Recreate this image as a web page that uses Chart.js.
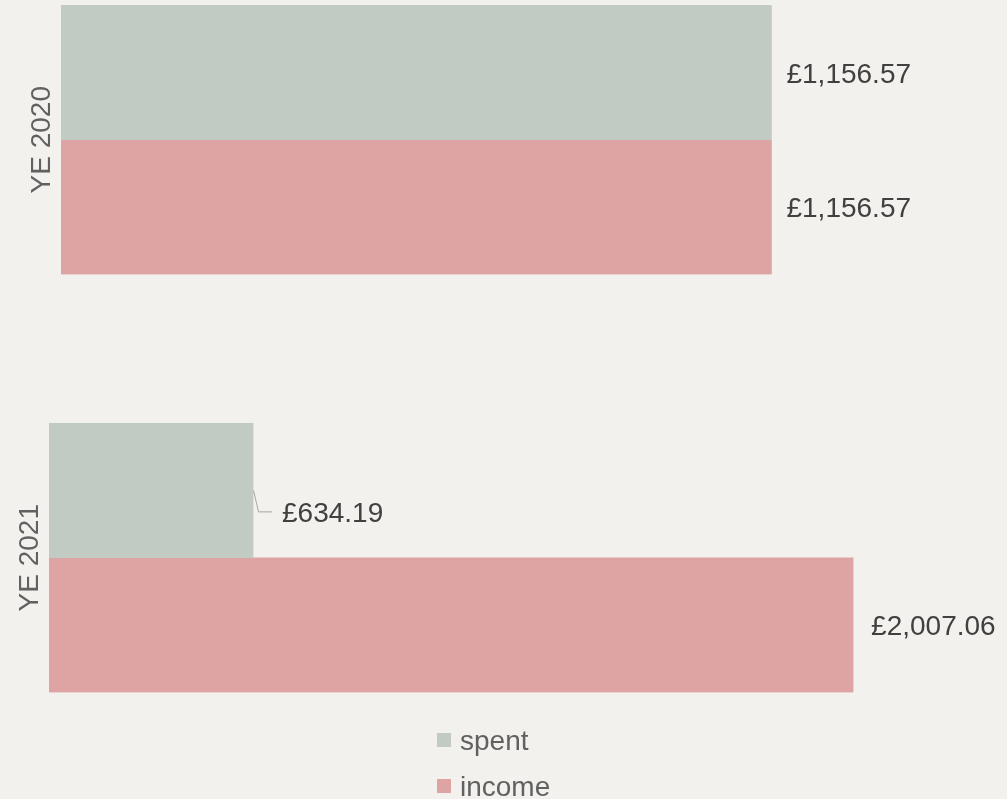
<!DOCTYPE html>
<html>
<head>
<meta charset="utf-8">
<script src="https://cdn.jsdelivr.net/npm/chart.js@4/dist/chart.umd.min.js"></script>
<style>
  html, body { margin: 0; padding: 0; background: #f2f1ed; }
  body { width: 1007px; height: 799px; position: relative; overflow: hidden; }
  .panel { position: absolute; left: 0; width: 1007px; }
  #p1 { top: 0; height: 290px; }
  #p2 { top: 400px; height: 399px; }
</style>
</head>
<body>
<div class="panel" id="p1"><canvas id="c1"></canvas></div>
<div class="panel" id="p2"><canvas id="c2"></canvas></div>
<script>
// ---- data ----
const categories = ['YE 2020', 'YE 2021'];
const seriesNames = ['spent', 'income'];
const spent = [1156.57, 634.19];
const income = [1156.57, 2007.06];
// value-axis ranges per panel
const axisMin = [0, 167.4];
const axisMax = [1400, 2300];

// ---- style ----
const FONT = '"Liberation Sans", Arial, Helvetica, sans-serif';
const colors = ['#c1cac3', '#dea3a3'];
const labelColor = '#404040';
const axisColor = '#616161';

function fmt(v) {
  return '£' + v.toLocaleString('en-GB', { minimumFractionDigits: 2, maximumFractionDigits: 2 });
}

const valueLabels = {
  id: 'valueLabels',
  afterDatasetsDraw(chart, args, opts) {
    const ctx = chart.ctx;
    ctx.save();
    ctx.font = '28px ' + FONT;
    ctx.fillStyle = labelColor;
    ctx.textBaseline = 'middle';
    ctx.textAlign = 'left';
    chart.data.datasets.forEach((ds, di) => {
      const meta = chart.getDatasetMeta(di);
      meta.data.forEach((bar, i) => {
        const v = ds.data[i];
        if (v == null) return;
        const lead = opts.leader && opts.leader.dataset === di;
        if (lead) {
          ctx.save();
          ctx.strokeStyle = '#a6a6a6';
          ctx.lineWidth = 1;
          ctx.beginPath();
          ctx.moveTo(bar.x + 0.5, bar.y);
          ctx.lineTo(bar.x + 5.5, bar.y + opts.leader.dy - 0.5);
          ctx.lineTo(bar.x + 19, bar.y + opts.leader.dy - 0.5);
          ctx.stroke();
          ctx.restore();
          ctx.fillText(fmt(v), bar.x + 29, bar.y + opts.leader.dy + 2);
        } else {
          ctx.fillText(fmt(v), bar.x + opts.gap, bar.y + 2.5);
        }
      });
    });
    ctx.restore();
  }
};

const stackedLegend = {
  id: 'stackedLegend',
  afterDraw(chart, args, opts) {
    if (!opts.show) return;
    const ctx = chart.ctx;
    ctx.save();
    ctx.font = '28px ' + FONT;
    ctx.textBaseline = 'middle';
    ctx.textAlign = 'left';
    chart.data.datasets.forEach((ds, i) => {
      const cy = opts.y + i * opts.step;
      ctx.fillStyle = ds.backgroundColor;
      ctx.fillRect(opts.x, cy - 7, 14, 14);
      ctx.fillStyle = axisColor;
      ctx.fillText(ds.label, opts.x + 23, cy + 2);
    });
    ctx.restore();
  }
};

function makeChart(id, idx, layoutPad, titlePad, labelOpts, legendOpts) {
  return new Chart(document.getElementById(id), {
    type: 'bar',
    data: {
      labels: [categories[idx]],
      datasets: [
        { label: seriesNames[0], data: [spent[idx]], backgroundColor: colors[0] },
        { label: seriesNames[1], data: [income[idx]], backgroundColor: colors[1] }
      ]
    },
    options: {
      indexAxis: 'y',
      responsive: true,
      maintainAspectRatio: false,
      animation: false,
      devicePixelRatio: 1,
      layout: { padding: layoutPad },
      categoryPercentage: 1,
      barPercentage: 1,
      datasets: { bar: { categoryPercentage: 1, barPercentage: 1, borderWidth: 0 } },
      scales: {
        x: {
          display: false,
          min: axisMin[idx],
          max: axisMax[idx]
        },
        y: {
          display: true,
          grid: { display: false, drawTicks: false },
          border: { display: false },
          ticks: { display: false },
          title: {
            display: true,
            text: categories[idx],
            color: axisColor,
            font: { family: FONT, size: 28 },
            padding: titlePad
          }
        }
      },
      plugins: {
        legend: { display: false },
        tooltip: { enabled: false },
        valueLabels: labelOpts,
        stackedLegend: legendOpts
      }
    },
    plugins: [valueLabels, stackedLegend]
  });
}

makeChart('c1', 0,
  { left: 23, top: 5, bottom: 15.5, right: 86 },
  { top: 2.5, bottom: 1.9 },
  { gap: 15 },
  { show: false });

makeChart('c2', 1,
  { left: 10, top: 23, bottom: 106.5, right: 25.9 },
  { top: 3, bottom: 2.4 },
  { gap: 18, leader: { dataset: 0, dy: 22 } },
  { show: true, x: 437, y: 340, step: 46 });
</script>
</body>
</html>
